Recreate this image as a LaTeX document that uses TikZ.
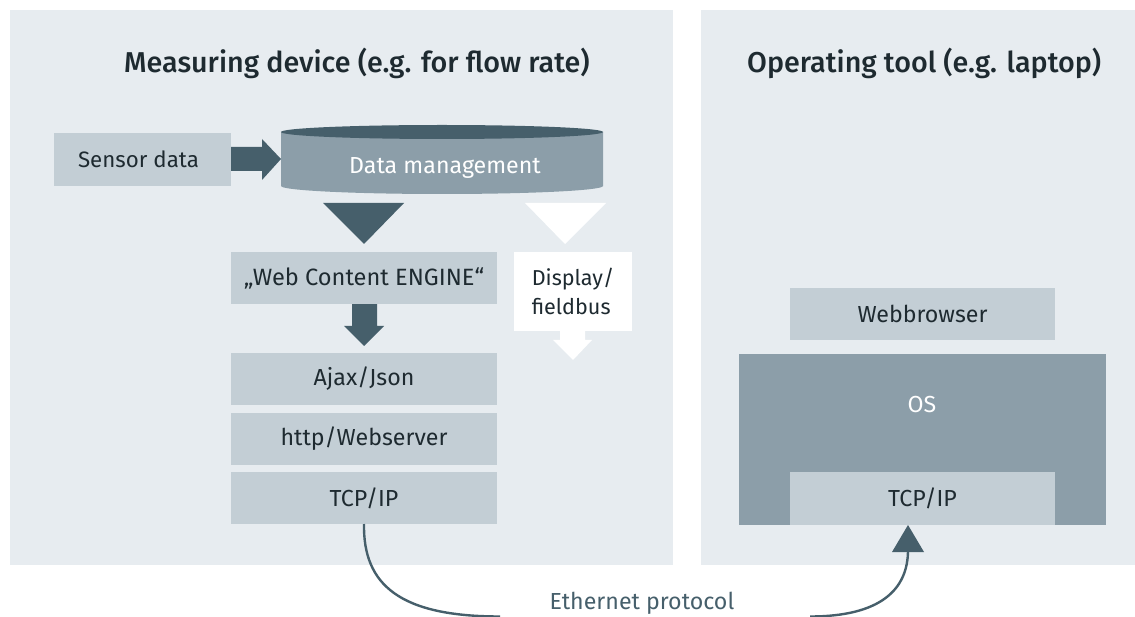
\documentclass[tikz,border=0pt]{standalone}
\usepackage{fontspec}
\setmainfont{Fira Sans}[BoldFont={Fira Sans Medium}]
\usetikzlibrary{arrows.meta}
\definecolor{panelc}{HTML}{E7ECF0}
\definecolor{boxc}{HTML}{C3CED5}
\definecolor{midc}{HTML}{8C9EA9}
\definecolor{darkc}{HTML}{465F6B}
\definecolor{textc}{HTML}{1E2A30}
\tikzset{
  panel/.style={fill=panelc,draw=none,inner sep=0pt,outer sep=0pt,anchor=north west},
  lbl/.style={font=\fontsize{23.2}{29}\selectfont,text=textc,inner sep=0pt,outer sep=0pt,align=center,draw=none},
  stackbox/.style={lbl,fill=boxc,anchor=north west},
  title/.style={font=\bfseries\fontsize{28.7}{34}\selectfont,text=textc,inner sep=0pt,anchor=base west},
  block/.style={fill=darkc,draw=none},
  wblock/.style={fill=white,draw=none},
  link/.style={draw=darkc,line width=2.4pt}
}
\begin{document}
\begin{tikzpicture}[x=1pt,y=-1pt]
\useasboundingbox (0,0) rectangle (1135,617);
\fill[white] (0,0) rectangle (1135,617);
\node[panel,minimum width=663pt,minimum height=555pt] (pl) at (10,10) {};
\node[panel,minimum width=434pt,minimum height=555pt] (pr) at (701,10) {};
\node[title] (t1) at (124,72.5) {Measuring device (e.g. for flow rate)};
\node[title] (t2) at (747,72.5) {Operating tool (e.g. laptop)};
% Sensor
\node[stackbox,font=\fontsize{22.3}{29}\selectfont,minimum width=177pt,minimum height=53pt] (sensor) at (54,133) {Sensor data\hspace{8pt}};
% Cylinder
\fill[midc] (281,132) -- (281,186) arc[start angle=180,end angle=360,x radius=161pt,y radius=8pt] -- (603,132) -- cycle;
\fill[darkc] (442,132) ellipse[x radius=161pt,y radius=7pt];
\node[lbl,text=white,minimum width=322pt] (dm) at (445,168) {Data management};
% block arrows
\fill[block] (231,147) -- (262,147) -- (262,139) -- (281,159) -- (262,180) -- (262,171) -- (231,171) -- cycle;
\fill[block] (323,203) -- (404,203) -- (364,244) -- cycle;
\fill[wblock] (525,203) -- (606,203) -- (565,244) -- cycle;
\fill[block] (352,304) -- (377,304) -- (377,326) -- (384,326) -- (364,346) -- (344,326) -- (352,326) -- cycle;
\fill[wblock] (560,331) -- (585,331) -- (585,340) -- (592,340) -- (573,360) -- (553,340) -- (560,340) -- cycle;
% Stack
\node[stackbox,font=\fontsize{23.6}{29}\selectfont,minimum width=266pt,minimum height=52pt] (web) at (231,252) {„Web Content ENGINE“};
\node[stackbox,font=\fontsize{21.6}{29}\selectfont,fill=white,minimum width=118pt,minimum height=79pt,align=left] (disp) at (514,252) {Display/\\fieldbus\hspace{10pt}};
\node[stackbox,minimum width=266pt,minimum height=52pt] (ajax) at (231,353) {Ajax/Json};
\node[stackbox,minimum width=266pt,minimum height=52pt] (http) at (231,413) {http/Webserver};
\node[stackbox,minimum width=266pt,minimum height=52pt] (tcpl) at (231,472) {TCP/IP};
% Right
\node[stackbox,minimum width=265pt,minimum height=52pt] (wb) at (790,288) {Webbrowser};
\node[stackbox,fill=midc,minimum width=367pt,minimum height=171pt] (os) at (739,354) {};
\node[lbl,text=white] (ostext) at (922,405) {OS};
\node[stackbox,minimum width=265pt,minimum height=53pt] (tcpr) at (790,472) {TCP/IP};
% Connector
\coordinate (cl) at (500,616.5);
\coordinate (cr) at (810,616.5);
\coordinate (tip) at (908,525);
\draw[link] (tcpl.south) .. controls (363,585) and (400,616.5) .. (cl);
\draw[link] (cr) .. controls (880,616.5) and (908,590) .. (908,550);
\fill[block] (tip) -- (924,552) -- (892,552) -- cycle;
\node[lbl,text=darkc] (eth) at (642,603) {Ethernet protocol};
\end{tikzpicture}
\end{document}
